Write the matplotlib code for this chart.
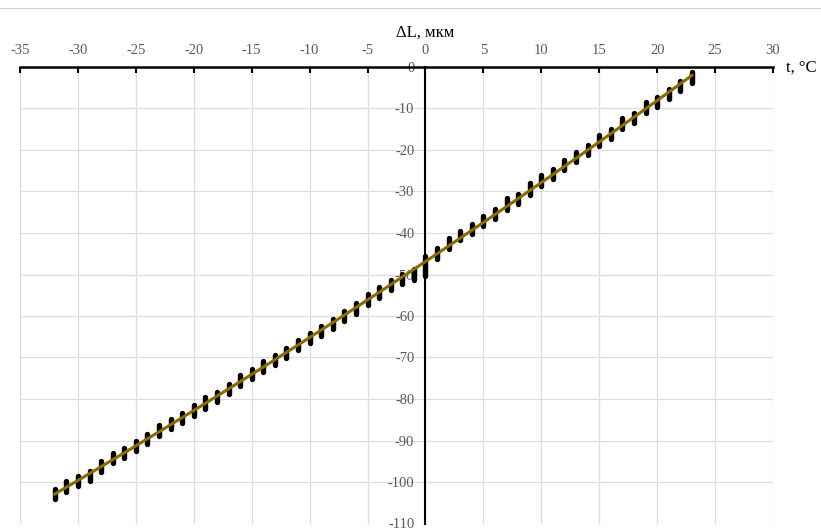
import numpy as np
import matplotlib
matplotlib.use("Agg")
import matplotlib.pyplot as plt
from matplotlib.lines import Line2D

# temperature, deg C
t = list(range(-32, 24))
# measured spread of dL at each temperature (min / max), mkm
dl_lo = [-104.0, -102.3, -101.0, -99.7, -97.5, -95.5, -94.2, -92.5, -90.8, -88.9,
         -87.2, -85.8, -84.1, -82.3, -80.7, -78.9, -76.8, -75.2, -73.5, -71.8,
         -70.2, -68.3, -66.5, -64.8, -63.2, -61.3, -59.5, -57.3, -55.6, -53.8,
         -52.2, -51.3, -50.4, -46.3, -43.9, -41.8, -40.2, -38.4, -36.6, -34.4,
         -33.0, -30.8, -28.7, -26.9, -24.9, -22.8, -21.2, -19.1, -17.4, -15.0,
         -13.4, -11.2, -9.6, -7.6, -5.8, -3.9]
dl_hi = [-101.6, -99.7, -98.6, -97.3, -94.9, -92.9, -91.8, -90.1, -88.4, -86.3,
         -84.8, -83.4, -81.5, -79.5, -78.3, -76.3, -74.2, -72.8, -70.9, -69.4,
         -67.8, -65.7, -64.1, -62.4, -60.8, -58.7, -56.9, -54.7, -53.0, -51.4,
         -49.8, -48.7, -45.6, -43.7, -41.3, -39.4, -37.8, -36.0, -34.2, -31.6,
         -30.6, -28.0, -26.1, -24.5, -22.3, -20.4, -18.8, -16.5, -15.0, -12.2,
         -11.0, -8.4, -7.2, -5.2, -3.4, -1.3]

x_ticks = list(range(-35, 31, 5))
y_ticks = list(range(-110, 1, 10))

fig = plt.figure(figsize=(8.21, 5.28), dpi=100)
ax = fig.add_axes([20 / 821, 1 - 523.5 / 528, 753 / 821, (523.5 - 67) / 528])

ax.set_xlim(-35, 30)
ax.set_ylim(-110, 0)

# grid
for xv in x_ticks:
    ax.axvline(xv, color="#dddddd", lw=0.9, zorder=0)
for yv in y_ticks:
    ax.axhline(yv, color="#dddddd", lw=0.9, zorder=0)

# data marks
mid = [(a + b) / 2 for a, b in zip(dl_lo, dl_hi)]
vl = ax.vlines(t, dl_lo, dl_hi, colors="black", linewidth=3.9, zorder=3)
vl.set_capstyle("round")

# polynomial trend line (2nd order)
z = np.polyfit(t, mid, 2)
p = np.poly1d(z)
tt = np.linspace(min(t), max(t), 200)
ax.plot(tt, p(tt), color="#8c6a00", lw=2.2, zorder=4)

# axes: x axis on top at y=0, y axis through x=0
for s in ["bottom", "right"]:
    ax.spines[s].set_visible(False)
ax.spines["top"].set_linewidth(1.8)
ax.spines["top"].set_color("black")
ax.spines["left"].set_position(("data", 0))
ax.spines["left"].set_linewidth(1.5)
ax.spines["left"].set_color("black")
ax.spines["left"].set_zorder(2)

ax.xaxis.tick_top()
ax.set_xticks(x_ticks)
ax.set_xticklabels([str(v) for v in x_ticks])
ax.tick_params(axis="x", direction="in", length=4, width=1.5, color="black",
               pad=7, labelsize=10.5, labelcolor="#595959")
ax.set_yticks(y_ticks)
ax.set_yticklabels([str(v) for v in y_ticks])
ax.tick_params(axis="y", length=0, pad=8, labelsize=10.5, labelcolor="#595959")
for lab in ax.get_xticklabels() + ax.get_yticklabels():
    lab.set_family("Liberation Serif")

ax.text(0, 1.075, "\u0394L, мкм", transform=ax.get_xaxis_transform(),
        ha="center", va="center", fontsize=12, family="Liberation Serif")
fig.text(786 / 821, 1 - 68 / 528, "t, °C", ha="left", va="center",
         fontsize=12, family="Liberation Serif")

# chart border line at top
fig.add_artist(Line2D([0, 1], [1 - 8 / 528, 1 - 8 / 528], color="#d9d9d9", lw=0.9))

fig.savefig("out.png", dpi=100)
